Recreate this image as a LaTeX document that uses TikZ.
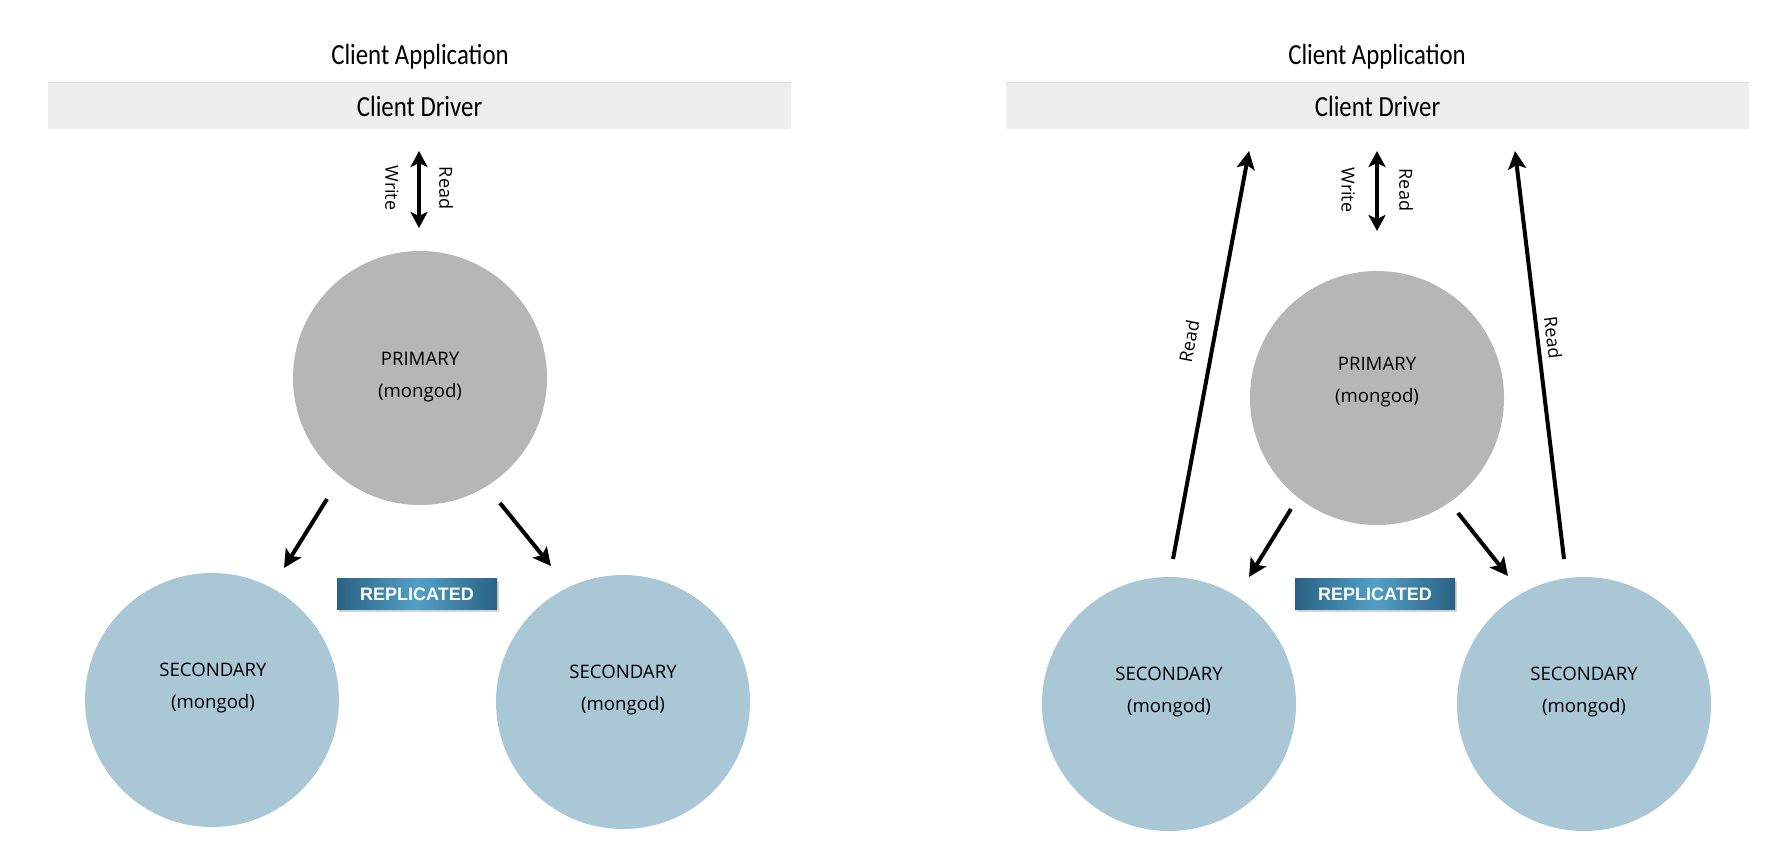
\documentclass[tikz,border=0pt]{standalone}
\usepackage{fontspec}
\setmainfont{Open Sans}
\newfontfamily\headfont[FakeStretch=0.85]{Carlito}
\newfontfamily\tagfont{Liberation Sans}
\usetikzlibrary{arrows.meta,shadows}
\definecolor{drvgray}{HTML}{EEEEEE}
\definecolor{drvline}{HTML}{DADADA}
\definecolor{prigray}{HTML}{B6B6B6}
\definecolor{secblue}{HTML}{AAC7D6}
\definecolor{tagdark}{HTML}{2A6284}
\definecolor{taglight}{HTML}{529FC6}
\tikzset{
  flow/.style={line width=2pt,-{Stealth[length=9pt,width=9pt,inset=2pt]}},
  both/.style={line width=2pt,{Stealth[length=8pt,width=8.5pt,inset=2pt]}-{Stealth[length=8pt,width=8.5pt,inset=2pt]}},
  headtext/.style={font=\headfont\fontsize{14.6}{16}\selectfont},
  driver/.style={fill=drvgray,minimum width=371.5pt,minimum height=23pt,inner sep=0pt,
    font=\headfont\fontsize{14.6}{16}\selectfont},
  member/.style={circle,minimum size=127pt,inner sep=0pt},
  primary/.style={member,fill=prigray},
  secondary/.style={member,fill=secblue},
  memo/.style={align=center,font=\fontsize{9.3}{16}\selectfont},
  small/.style={font=\fontsize{9}{10}\selectfont,inner sep=1pt},
  tag/.style={left color=tagdark,right color=tagdark,middle color=taglight,
    minimum width=80pt,minimum height=15.5pt,inner sep=0pt,text=white,
    font=\tagfont\bfseries\fontsize{9}{10}\selectfont,
    drop shadow={opacity=0.35,shadow xshift=0.8pt,shadow yshift=-1.2pt}}
}
\begin{document}
\begin{tikzpicture}[x=0.5pt,y=-0.5pt]
\useasboundingbox (0,0) rectangle (1780,858);

% left: all reads go to the primary
\node[headtext] (appL) at (420,57) {Client Application};
\node[driver] (drvL) at (419.5,106) {Client Driver};
\draw[drvline] (drvL.north west) -- (drvL.north east);
\coordinate (wtopL) at (419,151); \coordinate (wbotL) at (419,228);
\draw[both] (wtopL) -- (wbotL);
\node[small,rotate=-90] (writeL) at (392,188) {Write};
\node[small,rotate=-90] (readL) at (446,188) {Read};
\node[primary] (priL) at (420,378) {};
\node[memo] (priLt) at (420,377) {PRIMARY\\(mongod)};
\node[secondary] (secAL) at (212,700) {};
\node[memo] (secALt) at (213,688) {SECONDARY\\(mongod)};
\node[secondary] (secBL) at (623,702) {};
\node[memo] (secBLt) at (623,690) {SECONDARY\\(mongod)};
\coordinate (repAs) at (327,499); \coordinate (repAe) at (284,568);
\coordinate (repBs) at (500,503); \coordinate (repBe) at (551,566);
\draw[flow] (repAs) -- (repAe);
\draw[flow] (repBs) -- (repBe);
\node[tag] (repL) at (417,594) {REPLICATED};

% right: secondaries answer reads as well
\node[headtext] (appR) at (1377,57) {Client Application};
\node[driver] (drvR) at (1377.5,106) {Client Driver};
\draw[drvline] (drvR.north west) -- (drvR.north east);
\coordinate (wtopR) at (1377,151); \coordinate (wbotR) at (1377,231);
\draw[both] (wtopR) -- (wbotR);
\node[small,rotate=-90] (writeR) at (1348,190) {Write};
\node[small,rotate=-90] (readR) at (1406,190) {Read};
\node[primary] (priR) at (1377,398) {};
\node[memo] (priRt) at (1377,382) {PRIMARY\\(mongod)};
\node[secondary] (secAR) at (1169,704) {};
\node[memo] (secARt) at (1169,692) {SECONDARY\\(mongod)};
\node[secondary] (secBR) at (1584,704) {};
\node[memo] (secBRt) at (1584,692) {SECONDARY\\(mongod)};
\coordinate (repCs) at (1291,509); \coordinate (repCe) at (1249,577);
\coordinate (repDs) at (1458,513); \coordinate (repDe) at (1508,576);
\draw[flow] (repCs) -- (repCe);
\draw[flow] (repDs) -- (repDe);
\node[tag] (repR) at (1375,594) {REPLICATED};
\coordinate (rdAs) at (1173,559); \coordinate (rdAe) at (1249,151);
\coordinate (rdBs) at (1564,559); \coordinate (rdBe) at (1515,151);
\draw[flow] (rdAs) -- (rdAe);
\draw[flow] (rdBs) -- (rdBe);
\node[small,rotate=79] (rdAt) at (1189,341) {Read};
\node[small,rotate=-83] (rdBt) at (1553,338) {Read};
\end{tikzpicture}
\end{document}
